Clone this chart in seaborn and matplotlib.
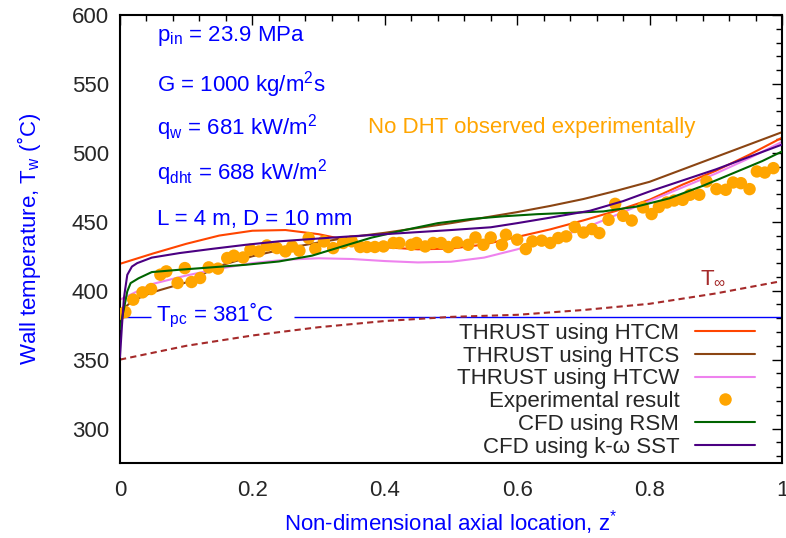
import numpy as np
import pandas as pd
import matplotlib
matplotlib.use("Agg")
import matplotlib.pyplot as plt
import seaborn as sns
from matplotlib.lines import Line2D

# ---------------- data ----------------
z_grid = [0.0, 0.05, 0.1, 0.15, 0.2, 0.25, 0.3, 0.35, 0.4, 0.45, 0.5,
          0.55, 0.6, 0.65, 0.7, 0.75, 0.8, 0.85, 0.9, 0.95, 1.0]

htcm_T = [419.5, 427, 434, 440, 443.5, 444, 441, 436, 431.5, 430, 430.5,
          433.5, 439, 444.5, 451, 458, 466, 477, 487, 498.5, 511]

htcs_z = [0.0, 0.02] + z_grid[1:]
htcs_T = [385, 393, 399, 406, 418, 425, 430.5, 435, 439, 442, 445.5, 449,
          453, 457, 461.5, 466.5, 472.5, 479, 488, 497, 506, 515]

htcw_T = [393.5, 405, 411, 416, 420, 422.5, 423.5, 423, 421.5, 420.5, 421,
          424, 430, 437, 445, 455, 465, 475, 485, 496, 508]

rsm_z = [0.0, 0.003, 0.006, 0.011, 0.016, 0.028, 0.048, 0.09, 0.14, 0.19,
         0.24, 0.29, 0.335, 0.38, 0.43, 0.48, 0.53, 0.58, 0.63, 0.68, 0.73,
         0.78, 0.83, 0.88, 0.93, 0.97, 1.0]
rsm_T = [372, 380, 387, 399.5, 405.5, 409, 413.5, 415.2, 417, 418.8,
         421.2, 425.4, 432, 438.5, 444, 449, 452, 454, 455.5, 456.5, 457.5,
         461, 467, 476, 486, 494, 501]

sst_z = [0.0, 0.003, 0.006, 0.011, 0.018, 0.026, 0.048, 0.09, 0.14, 0.19,
         0.24, 0.29, 0.335, 0.4, 0.45, 0.5, 0.56, 0.6, 0.65, 0.71, 0.76,
         0.8, 0.85, 0.9, 0.95, 1.0]
sst_T = [352, 375, 395, 411.5, 417.5, 420, 424, 427.3, 430.4, 433.3,
         435.8, 437.5, 439, 441, 442.5, 444, 446, 449, 453, 458, 465,
         472, 480, 488, 497, 506]

tinf_z = [0.0, 0.1, 0.2, 0.3, 0.4, 0.5, 0.6, 0.7, 0.8, 0.9, 1.0]
tinf_T = [350, 360, 367.5, 373.5, 378, 381, 382.5, 386, 390.5, 398, 407]

T_pc = 381

exp_z = [0.000, 0.008, 0.020, 0.034, 0.047, 0.061, 0.070, 0.087, 0.098, 0.108,
         0.121, 0.134, 0.148, 0.162, 0.172, 0.186, 0.197, 0.210, 0.222, 0.237,
         0.250, 0.260, 0.271, 0.285, 0.295, 0.308, 0.322, 0.337, 0.350, 0.363,
         0.373, 0.385, 0.398, 0.413, 0.422, 0.440, 0.448, 0.461, 0.473, 0.485,
         0.496, 0.509, 0.526, 0.537, 0.549, 0.560, 0.577, 0.583, 0.600, 0.613,
         0.623, 0.637, 0.650, 0.662, 0.674, 0.687, 0.700, 0.713, 0.724, 0.738,
         0.748, 0.760, 0.773, 0.790, 0.803, 0.814, 0.826, 0.837, 0.850, 0.861,
         0.875, 0.886, 0.901, 0.915, 0.926, 0.938, 0.951, 0.962, 0.974, 0.987]
exp_T = [383.1, 384.5, 393.5, 398.8, 401.2, 411.6, 414.0, 405.6, 416.4, 406.3,
         409.2, 416.9, 416.0, 423.7, 425.4, 424.1, 429.7, 428.5, 432.8, 430.9,
         428.5, 432.1, 429.0, 438.2, 430.4, 435.7, 430.9, 434.6, 435.8, 431.7,
         431.7, 431.7, 432.1, 434.6, 434.6, 433.3, 434.6, 432.1, 434.6, 434.6,
         431.7, 435.0, 433.3, 438.6, 433.3, 438.6, 433.3, 440.6, 437.0, 430.2,
         435.8, 436.3, 434.6, 438.2, 439.4, 446.2, 442.2, 444.7, 441.8, 451.4,
         463.0, 454.3, 450.9, 460.4, 455.6, 460.7, 464.0, 465.4, 465.9, 469.6,
         469.6, 479.2, 473.7, 473.2, 478.5, 478.0, 473.7, 486.5, 485.7, 488.9]

labels = ["THRUST using HTCM", "THRUST using HTCS", "THRUST using HTCW",
          "Experimental result", "CFD using RSM", "CFD using k-\u03c9 SST"]

# ---------------- style ----------------
sns.set_theme(style="white")
plt.rcParams["font.family"] = ["Liberation Sans", "DejaVu Sans"]
plt.rcParams["mathtext.fontset"] = "custom"
plt.rcParams["mathtext.rm"] = "Liberation Sans"
plt.rcParams["mathtext.it"] = "Liberation Sans:italic"
plt.rcParams["mathtext.bf"] = "Liberation Sans:bold"

FS = 16
BLUE = "#0000ff"

fig = plt.figure(figsize=(7.86, 5.38), dpi=100)
ax = fig.add_axes([120 / 786, 1 - 463 / 538, (782 - 120) / 786, (463 - 15) / 538])

lw = 1.5
# reference lines
ax.hlines([T_pc, T_pc], [0.0, 0.263], [0.047, 1.0], color=BLUE, lw=1.0, zorder=1)
sns.lineplot(x=tinf_z, y=tinf_T, ax=ax, color="#a52a2a", lw=1.5,
             linestyle=(0, (3, 2)), estimator=None, zorder=1)

sns.lineplot(x=z_grid, y=htcm_T, ax=ax, color="#ff4500", lw=lw, estimator=None, zorder=2)
sns.lineplot(x=htcs_z, y=htcs_T, ax=ax, color="#8b4513", lw=lw, estimator=None, zorder=2)
sns.lineplot(x=z_grid, y=htcw_T, ax=ax, color="#ee82ee", lw=lw, estimator=None, zorder=2)
sns.scatterplot(x=exp_z, y=exp_T, ax=ax, color="#ffa500", s=80, edgecolor="none",
                zorder=3)
sns.lineplot(x=rsm_z, y=rsm_T, ax=ax, color="#006400", lw=lw, estimator=None, zorder=4)
sns.lineplot(x=sst_z, y=sst_T, ax=ax, color="#4b0082", lw=lw, estimator=None, zorder=4)

handles = [
    Line2D([], [], color="#ff4500", lw=lw),
    Line2D([], [], color="#8b4513", lw=lw),
    Line2D([], [], color="#ee82ee", lw=lw),
    Line2D([], [], color="#ffa500", lw=0, marker="o", markersize=9, markeredgewidth=0),
    Line2D([], [], color="#006400", lw=lw),
    Line2D([], [], color="#4b0082", lw=lw),
]
leg = ax.legend(handles, labels, loc="lower right", bbox_to_anchor=(0.959, 0.012),
                frameon=False, markerfirst=False, fontsize=FS, handlelength=2.7,
                handletextpad=0.7, labelspacing=0.08, borderpad=0, borderaxespad=0)

ax.set_xlim(0, 1)
ax.set_ylim(275, 600)
ax.set_xticks([0, 0.2, 0.4, 0.6, 0.8, 1.0])
ax.set_xticklabels(["0", "0.2", "0.4", "0.6", "0.8", "1"])
ax.set_yticks([300, 350, 400, 450, 500, 550, 600])
ax.set_xticks(np.arange(0, 1.0001, 0.04), minor=True)
ax.set_yticks(np.arange(280, 600.1, 10), minor=True)
ax.tick_params(which="both", direction="in", top=True, right=True,
               labelsize=FS, color="black", width=1.0)
ax.tick_params(which="major", length=7)
ax.tick_params(which="minor", length=4)
ax.tick_params(axis="x", which="major", pad=12)
ax.tick_params(axis="y", which="major", pad=8)
for s in ax.spines.values():
    s.set_color("black")
    s.set_linewidth(1.5)

ax.set_xlabel("Non-dimensional axial location, z$^{*}$", color=BLUE, fontsize=FS, labelpad=5)
ax.set_ylabel("Wall temperature, T$_{\\mathrm{w}}$ (\u02daC)", color=BLUE, fontsize=FS, labelpad=21)

# annotations
tx = 0.056
ax.text(tx, 581.5, "p$_{\\mathrm{in}}$ = 23.9 MPa", color=BLUE, fontsize=FS, va="baseline")
ax.text(tx, 544.4, "G = 1000 kg/m$^{2}$s", color=BLUE, fontsize=FS, va="baseline")
ax.text(tx, 513.0, "q$_{\\mathrm{w}}$ = 681 kW/m$^{2}$", color=BLUE, fontsize=FS, va="baseline")
ax.text(tx, 480.4, "q$_{\\mathrm{dht}}$ = 688 kW/m$^{2}$", color=BLUE, fontsize=FS, va="baseline")
ax.text(tx, 447.8, "L = 4 m, D = 10 mm", color=BLUE, fontsize=FS, va="baseline")
ax.text(0.3746, 514.3, "No DHT observed experimentally", color="#ffa500", fontsize=FS, va="baseline")
ax.text(0.055, 377.5, "T$_{\\mathrm{pc}}$ = 381\u02daC", color=BLUE, fontsize=FS, va="baseline")
ax.text(0.876, 405.6, "T$_{\\infty}$", color="#a52a2a", fontsize=FS, va="baseline")

fig.savefig("out.png", dpi=100)
